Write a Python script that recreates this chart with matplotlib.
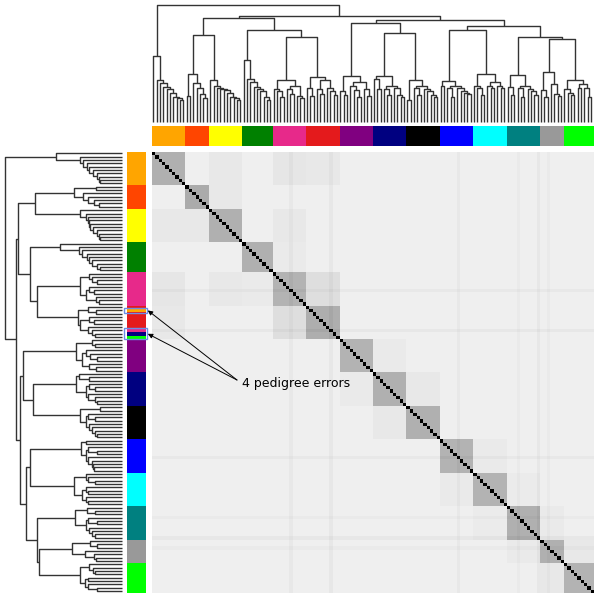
import numpy as np
import matplotlib.pyplot as plt
from matplotlib.colors import LinearSegmentedColormap, ListedColormap
from matplotlib.patches import Rectangle

families = ['orange', 'orangered', 'yellow', 'green', 'pink', 'red', 'purple',
            'navy', 'black', 'blue', 'cyan', 'teal', 'gray', 'lime']
family_colors = ['#FFA500', '#FF4500', '#FFFF00', '#008000', '#E7298A', '#E41A1C',
                 '#800080', '#000080', '#000000', '#0000FF', '#00FFFF', '#008080',
                 '#999999', '#00FF00']
family_sizes = [10, 7, 10, 9, 10, 10, 10, 10, 10, 10, 10, 10, 7, 9]

# rows whose pedigree label differs from the cluster they fall in
pedigree_errors = {47: 'orange', 53: 'pink', 54: 'navy', 55: 'lime'}

# kinship levels
kin_self = 1.0
kin_within = [0.31, 0.33, 0.31, 0.31, 0.30, 0.32, 0.30,
              0.31, 0.31, 0.30, 0.30, 0.31, 0.31, 0.30]
kin_between = 0.065
kin_pairs = {
    ('orange', 'yellow'): 0.09, ('orange', 'pink'): 0.10, ('orange', 'red'): 0.09,
    ('orangered', 'yellow'): 0.09, ('yellow', 'pink'): 0.09, ('green', 'pink'): 0.085,
    ('pink', 'red'): 0.13, ('purple', 'navy'): 0.085, ('navy', 'black'): 0.09,
    ('blue', 'cyan'): 0.085, ('cyan', 'teal'): 0.08, ('teal', 'gray'): 0.085,
    ('gray', 'lime'): 0.09,
}
# individuals showing as slightly darker rows/columns
kin_streaks = {41: 0.025, 53: 0.03, 91: 0.025, 109: 0.02, 115: 0.03, 118: 0.02}

# dendrogram: (merge height, left, right), leaves are None
L = None
t_orange = (56, L, (36, L, (33, L, (30, L, (28, L, (25, L, (21, L, (20, L, (19, L, L)))))))))
t_orangered = (41, (22, L, L), (33, L, (29, L, (24, L, (20, L, L)))))
t_yellow = (36, L, (31, L, (29, L, (28, L, (27, L, (25, L, (21, L, (20, L, (19, L, L)))))))))
t_green = (53, L, (37, L, (34, L, (30, L, (28, L, (26, L, (21, L, (19, L, L))))))))
t_pink = (36, (28, L, (26, L, (21, L, L))), (31, (28, L, (24, L, L)), (22, L, (20, L, L))))
t_red = (38, (29, L, (22, L, L)), (36, (28, L, (24, L, L)), (29, L, (26, L, (23, L, L)))))
t_purple = (39, (26, L, (23, L, L)), (34, (31, L, (27, L, (21, L, L))), (28, L, (22, L, L))))
t_navy = (39, (37, L, (28, L, L)), (31, (28, L, (23, L, L)), (29, L, (23, L, (21, L, L)))))
t_black = (36, (19, L, L), (31, (29, L, (23, L, L)), (28, L, (26, L, (23, L, (21, L, L))))))
t_blue = (35, (31, L, L), (31, (29, L, (21, L, L)), (29, L, (26, L, (25, L, (24, L, L))))))
t_cyan = (41, (31, L, (29, L, (23, L, L))), (34, (31, L, (29, L, L)), (31, L, (29, L, L))))
t_teal = (40, (30, L, (23, L, L)), (31, (29, L, (21, L, L)), (28, L, (26, L, (23, L, L)))))
t_gray = (43, (27, L, (21, L, L)), (32, L, (24, L, (22, L, L))))
t_lime = (36, (28, L, (25, L, (23, L, L))), (32, (29, L, L), (29, L, (21, L, L))))

tree = (100, t_orange,
        (91, (89, (74, t_orangered, t_yellow), (79, t_green, (73, t_pink, t_red))),
             (87, (85, t_purple, (76, t_navy, t_black)),
                  (82, (79, t_blue, t_cyan), (73, t_teal, (71, t_gray, t_lime))))))


def dendro_segments(node, counter, segs):
    if node is None:
        x = counter[0] + 0.5
        counter[0] += 1
        return x, 0.0
    h, a, b = node
    xa, ha = dendro_segments(a, counter, segs)
    xb, hb = dendro_segments(b, counter, segs)
    segs.append(([xa, xa, xb, xb], [ha, h, h, hb]))
    return (xa + xb) / 2, h


W, H = 600, 602


def fig_box(x0, y0, x1, y1):
    # pixel box (top-left origin) -> figure fraction rect
    return [x0 / W, 1 - y1 / H, (x1 - x0) / W, (y1 - y0) / H]


def px(x, y):
    return x / W, 1 - y / H


n = sum(family_sizes)
cluster_idx = np.repeat(np.arange(len(families)), family_sizes)
row_labels = [families[i] for i in cluster_idx]
for r, fam in pedigree_errors.items():
    row_labels[r] = fam
row_idx = np.array([families.index(f) for f in row_labels])

# kinship matrix from family levels
level = np.full((len(families), len(families)), kin_between)
for (a, b), v in kin_pairs.items():
    i, j = families.index(a), families.index(b)
    level[i, j] = level[j, i] = v
for i, v in enumerate(kin_within):
    level[i, i] = v
K = level[cluster_idx][:, cluster_idx]
extra = np.zeros(n)
for i, v in kin_streaks.items():
    extra[i] = v
K = K + extra[:, None] + extra[None, :]
np.fill_diagonal(K, kin_self)

hm_x0, hm_y0, hm_x1, hm_y1 = 151.7, 151.7, 592.7, 592.7
cell = (hm_y1 - hm_y0) / n

fig = plt.figure(figsize=(6, 6.02), dpi=100)

ax_hm = fig.add_axes(fig_box(hm_x0, hm_y0, hm_x1, hm_y1))
gray = LinearSegmentedColormap.from_list('kin', ['white', 'black'])
ax_hm.imshow(K, cmap=gray, vmin=0, vmax=1, interpolation='nearest',
             extent=(0, n, n, 0), aspect='auto')
ax_hm.axis('off')

fam_cmap = ListedColormap(family_colors)
ax_top = fig.add_axes(fig_box(hm_x0, 126, hm_x1, 146))
ax_top.imshow(cluster_idx[None, :], cmap=fam_cmap, vmin=-0.5, vmax=len(families) - 0.5,
              interpolation='nearest', extent=(0, n, 1, 0), aspect='auto')
ax_top.axis('off')

ax_left = fig.add_axes(fig_box(126.7, hm_y0, 145.3, hm_y1))
ax_left.imshow(row_idx[:, None], cmap=fam_cmap, vmin=-0.5, vmax=len(families) - 0.5,
               interpolation='nearest', extent=(0, 1, n, 0), aspect='auto')
ax_left.axis('off')

segs = []
dendro_segments(tree, [0], segs)

ax_dt = fig.add_axes(fig_box(hm_x0, 5, hm_x1, 121.7))
ax_dl = fig.add_axes(fig_box(5, hm_y0, 122, hm_y1))
for xs, hs in segs:
    ax_dt.plot(xs, hs, color='#333333', lw=1.0, clip_on=False, solid_capstyle='butt')
    ax_dl.plot(hs, xs, color='#333333', lw=1.0, clip_on=False, solid_capstyle='butt')
ax_dt.set_xlim(0, n)
ax_dt.set_ylim(0, 100)
ax_dt.axis('off')
ax_dl.set_xlim(100, 0)
ax_dl.set_ylim(n, 0)
ax_dl.axis('off')

# boxes around the mislabelled rows, grouped when consecutive
rows = sorted(pedigree_errors)
groups = [[rows[0]]]
for r in rows[1:]:
    if r == groups[-1][-1] + 1:
        groups[-1].append(r)
    else:
        groups.append([r])

tail = px(237, 380)
for g in groups:
    y0 = hm_y0 + g[0] * cell - 0.6
    y1 = hm_y0 + (g[-1] + 1) * cell + 0.6
    fig.patches.append(Rectangle(px(124.3, y1), 23 / W, (y1 - y0) / H,
                                 transform=fig.transFigure, fill=False,
                                 edgecolor='#6b8ee6', lw=1.0))
    fig.add_artist(plt.Annotation('', xy=px(147.8, (y0 + y1) / 2), xycoords='figure fraction',
                                  xytext=tail, textcoords='figure fraction',
                                  arrowprops=dict(arrowstyle='-|>', color='black', lw=0.7,
                                                  mutation_scale=7, shrinkA=0, shrinkB=0)))

fig.text(*px(242, 387), '4 pedigree errors', fontsize=9, ha='left', va='baseline')

fig.savefig('out.png', dpi=100)
